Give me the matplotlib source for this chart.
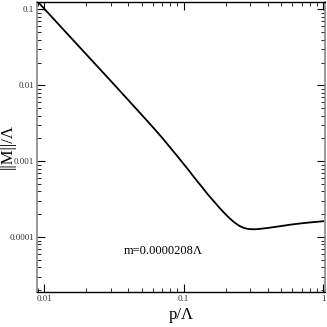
import numpy as np
import matplotlib
matplotlib.use("Agg")
import matplotlib.pyplot as plt
from matplotlib.ticker import LogLocator, FixedLocator, FixedFormatter, NullFormatter

# values
p = [0.0089, 0.01, 0.015, 0.02, 0.03, 0.04, 0.05, 0.06, 0.07, 0.08, 0.09,
     0.1, 0.11, 0.12, 0.135, 0.15, 0.165, 0.18, 0.2, 0.215, 0.23, 0.25,
     0.27, 0.29, 0.31, 0.33, 0.36, 0.4, 0.45, 0.5, 0.6, 0.7, 0.8, 0.9, 1.0]
norm_m = [0.130, 0.103, 0.0458, 0.0258, 0.0115, 0.00644, 0.0041, 0.00283,
          0.00205, 0.00152, 0.00117, 0.00092, 0.00074, 0.00060, 0.00046,
          0.00036, 0.000295, 0.000245, 0.000199, 0.000175, 0.000157,
          0.000141, 0.000132, 0.000128, 0.000127, 0.000127, 0.000129,
          0.000132, 0.000136, 0.000140, 0.000147, 0.000152, 0.000156,
          0.000159, 0.000162]

xticks = [0.01, 0.1, 1]
xlabels = ["0.01", "0.1", "1"]
yticks = [1e-4, 1e-3, 1e-2, 1e-1]
ylabels = ["0.0001", "0.001", "0.01", "0.1"]

plt.rcParams["font.family"] = ["Liberation Serif", "DejaVu Serif"]

fig = plt.figure(figsize=(3.27, 3.27), dpi=100)
ax = fig.add_axes([0.113, 0.107, 0.881, 0.887])

ax.plot(p, norm_m, color="black", lw=1.3)
ax.set_xscale("log")
ax.set_yscale("log")
ax.set_xlim(0.0089, 1.03)
ax.set_ylim(1.89e-5, 0.1256)

ax.xaxis.set_major_locator(FixedLocator(xticks))
ax.xaxis.set_major_formatter(FixedFormatter(xlabels))
ax.yaxis.set_major_locator(FixedLocator(yticks))
ax.yaxis.set_major_formatter(FixedFormatter(ylabels))
ax.xaxis.set_minor_locator(LogLocator(base=10, subs=np.arange(2, 10)))
ax.yaxis.set_minor_locator(LogLocator(base=10, subs=np.arange(2, 10)))
ax.xaxis.set_minor_formatter(NullFormatter())
ax.yaxis.set_minor_formatter(NullFormatter())

ax.tick_params(which="both", direction="in", top=True, right=True,
               labelsize=6.5, pad=2, labelcolor="#333333")
ax.tick_params(which="major", length=6, width=0.8)
ax.tick_params(which="minor", length=3, width=0.6)
for side in ["left", "right"]:
    ax.spines[side].set_color("#888888")
    ax.spines[side].set_linewidth(1.2)
for side in ["top", "bottom"]:
    ax.spines[side].set_linewidth(1.0)

ax.set_xlabel("p/\u039b", fontsize=12)
ax.xaxis.set_label_coords(0.5, -0.05)
ax.set_ylabel("||M||/\u039b", fontsize=12)
ax.yaxis.set_label_coords(-0.075, 0.5)
ax.text(0.071, 6.5e-5, "m=0.0000208\u039b", fontsize=9, ha="center", va="center")

fig.savefig("out.png", dpi=100)
